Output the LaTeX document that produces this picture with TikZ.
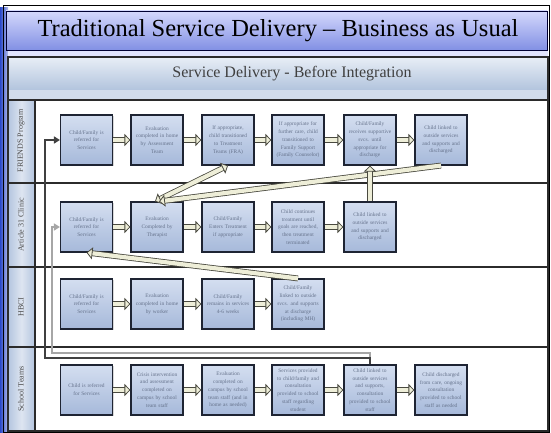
\documentclass[tikz,border=0pt]{standalone}
\usepackage{fontspec}
\setmainfont{Liberation Serif}
\usetikzlibrary{arrows.meta,shadows}

\definecolor{edgeblue}{HTML}{2A48C8}
\definecolor{titletop}{HTML}{D4D8FC}
\definecolor{titlebot}{HTML}{8290E4}
\definecolor{hdrtop}{HTML}{E8EEF6}
\definecolor{hdrbot}{HTML}{B2C4DD}
\definecolor{lanefill}{HTML}{B4C5DF}
\definecolor{boxtop}{HTML}{D4DEF0}
\definecolor{boxbot}{HTML}{A6B9DA}
\definecolor{boxline}{HTML}{1E2433}
\definecolor{boxtext}{HTML}{66738C}
\definecolor{cream}{HTML}{EEEED8}
\definecolor{arrline}{HTML}{4A4A40}
\definecolor{gridline}{HTML}{2B2B2B}

\begin{document}
\begin{tikzpicture}[
  x=1pt, y=-1pt,
  proc/.style     = {draw=boxline, line width=1.1pt, top color=boxtop,
                     bottom color=boxbot, minimum width=52pt,
                     minimum height=50pt, text width=48pt, align=center,
                     inner sep=0pt, text=boxtext,
                     font=\fontsize{5.4}{7.8}\selectfont,
                     drop shadow={shadow xshift=1.2pt, shadow yshift=-1.2pt,
                                  opacity=0.3}},
  lanelbl/.style  = {rotate=90, text=black!70, font=\fontsize{8}{9}\selectfont},
  fat/.style      = {draw=arrline, line width=0.8pt, double=cream,
                     double distance=4.2pt,
                     -{Triangle[length=6pt, width=12pt, fill=cream]}},
  fatboth/.style  = {fat, {Triangle[length=6pt, width=12pt, fill=cream]}-{Triangle[length=6pt, width=12pt, fill=cream]}},
  darkret/.style  = {draw=black!75, line width=2.2pt,
                     -{Triangle[length=6pt, width=7pt]}},
  greyret/.style  = {draw=black!35, line width=2.2pt,
                     -{Triangle[length=6pt, width=7pt]}},
]
\useasboundingbox (0,0) rectangle (551,433);

% ── SLIDE FRAME ───────────────────────────────────────────────────────────────
\fill[white] (0,0) rectangle (551,433);
\fill[left color=edgeblue, right color=edgeblue!35] (0,8) rectangle (8,433);
\fill[titletop!70] (8,50) rectangle (548,57);
\draw[black, line width=1pt] (3,6) rectangle (549,432);
\draw[draw=black!80!blue, top color=titletop, bottom color=titlebot]
  (6,11) rectangle (547,50);
\node[font=\fontsize{24.5}{27}\selectfont] (title) at (278,31)
  {Traditional Service Delivery – Business as Usual};

% ── POOL HEADER ───────────────────────────────────────────────────────────────
\draw[gridline, top color=hdrtop, bottom color=hdrbot] (8,57) rectangle (548,90);
\fill[hdrbot!60] (8,90) rectangle (548,100);
\node[text=black!75, font=\fontsize{16}{18}\selectfont] (pool) at (292,74)
  {Service Delivery - Before Integration};

% ── LANES ─────────────────────────────────────────────────────────────────────
\fill[left color=lanefill, right color=lanefill, middle color=lanefill!45]
  (8,100) rectangle (35,431);
\draw[gridline, line width=1.2pt] (8,100) -- (548,100);
\draw[gridline, line width=1.2pt] (8,183) -- (548,183);
\draw[gridline, line width=1.2pt] (8,267) -- (548,267);
\draw[gridline, line width=1.2pt] (8,347) -- (548,347);
\draw[gridline, line width=1.2pt] (35,100) -- (35,431);
\draw[gridline, line width=1.2pt] (8,57) rectangle (548,431);

\node[lanelbl] (lnF) at (21,141) {FRIENDS Program};
\node[lanelbl] (lnA) at (21,225) {Article 31 Clinic};
\node[lanelbl] (lnH) at (21,307) {HBCI};
\node[lanelbl] (lnS) at (21,389) {School Teams};

% ── FRIENDS PROGRAM ───────────────────────────────────────────────────────────
\node[proc] (f1) at ( 86.5,140) {Child/Family is\\referred for\\Services};
\node[proc] (f2) at (157,140) {Evaluation\\completed in home\\by Assessment\\Team};
\node[proc] (f3) at (228,140) {If appropriate,\\child transitioned\\to Treatment\\Teams (FRA)};
\node[proc] (f4) at (298,140) {If appropriate for\\further care, child\\transitioned to\\Family Support\\(Family Counselor)};
\node[proc] (f5) at (370,140) {Child/Family\\receives supportive\\svcs. until\\appropriate for\\discharge};
\node[proc] (f6) at (441,140) {Child linked to\\outside services\\and supports and\\discharged};

% ── ARTICLE 31 CLINIC ─────────────────────────────────────────────────────────
\node[proc] (a1) at ( 86.5,227) {Child/Family is\\referred for\\Services};
\node[proc] (a2) at (157,227) {Evaluation\\Completed by\\Therapist};
\node[proc] (a3) at (228,227) {Child/Family\\Enters Treatment\\if appropriate};
\node[proc] (a4) at (298,227) {Child continues\\treatment until\\goals are reached,\\then treatment\\terminated};
\node[proc] (a5) at (370,227) {Child linked to\\outside services\\and supports and\\discharged};

% ── HBCI ──────────────────────────────────────────────────────────────────────
\node[proc] (h1) at ( 86.5,304) {Child/Family is\\referred for\\Services};
\node[proc] (h2) at (157,304) {Evaluation\\completed in home\\by worker};
\node[proc] (h3) at (228,304) {Child/Family\\remains in services\\4-6 weeks};
\node[proc] (h4) at (298,304) {Child/Family\\linked to outside\\svcs. and supports\\at discharge\\(including MH)};

% ── SCHOOL TEAMS ──────────────────────────────────────────────────────────────
\node[proc] (s1) at ( 86.5,390) {Child is referred\\for Services};
\node[proc] (s2) at (157,390) {Crisis intervention\\and assessment\\completed on\\campus by school\\team staff};
\node[proc] (s3) at (228,390) {Evaluation\\completed on\\campus by school\\team staff (and in\\home as needed)};
\node[proc] (s4) at (298,390) {Services provided\\to child/family and\\consultation\\provided to school\\staff regarding\\student};
\node[proc] (s5) at (370,390) {Child linked to\\outside services\\and supports,\\consultation\\provided to school\\staff};
\node[proc] (s6) at (441,390) {Child discharged\\from care, ongoing\\consultation\\provided to school\\staff as needed};

% ── FLOW WITHIN LANES ─────────────────────────────────────────────────────────
\draw[fat] (f1) -- (f2);
\draw[fat] (f2) -- (f3);
\draw[fat] (f3) -- (f4);
\draw[fat] (f4) -- (f5);
\draw[fat] (f5) -- (f6);

\draw[fat] (a1) -- (a2);
\draw[fat] (a2) -- (a3);
\draw[fat] (a3) -- (a4);
\draw[fat] (a4) -- (a5);

\draw[fat] (h1) -- (h2);
\draw[fat] (h2) -- (h3);
\draw[fat] (h3) -- (h4);

\draw[fat] (s1) -- (s2);
\draw[fat] (s2) -- (s3);
\draw[fat] (s3) -- (s4);
\draw[fat] (s4) -- (s5);
\draw[fat] (s5) -- (s6);

% ── FLOW ACROSS LANES ─────────────────────────────────────────────────────────
\draw[fatboth] ([xshift=-2pt]a2.north) -- (f3.south);
\draw[fat] (f6.south) -- ([xshift=2pt]a2.north);
\draw[fat] (a5.north) -- (f5.south);
\draw[fat] (h4.north) -- (a1.south);

% ── RETURN ROUTES FROM SCHOOL TEAMS ──────────────────────────────────────────
\coordinate (gyc) at (52,353);
\coordinate (dkc) at (45,358);
\draw[greyret] (s5.north) |- (gyc) |- (a1.west);
\draw[darkret] (s5.north) |- (dkc) |- (f1.west);

\end{tikzpicture}
\end{document}
